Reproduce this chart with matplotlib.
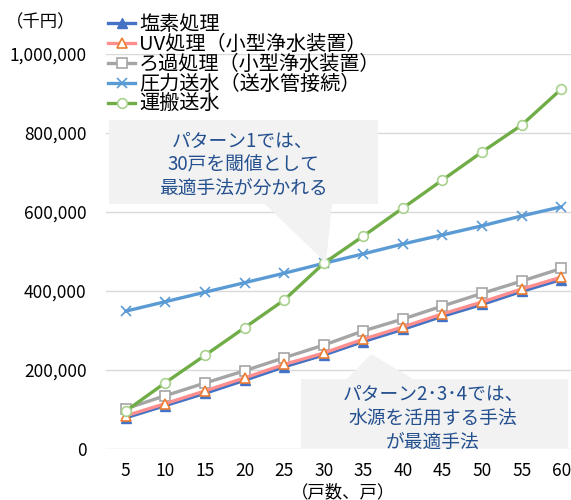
import matplotlib
matplotlib.use("Agg")
import matplotlib.pyplot as plt
from matplotlib.patches import Polygon

plt.rcParams['font.family'] = ['Noto Sans CJK JP', 'DejaVu Sans']

houses = [5, 10, 15, 20, 25, 30, 35, 40, 45, 50, 55, 60]
chlorine = [79000, 110000, 141000, 174000, 208000, 238000, 272000, 303000, 336000, 366000, 399000, 429000]
uv = [84000, 115000, 147000, 180000, 214000, 243000, 278000, 309000, 342000, 372000, 405000, 435000]
filtration = [102000, 135000, 167000, 198000, 231000, 263000, 299000, 329000, 362000, 394000, 425000, 457000]
pressure = [349000, 373000, 397000, 421000, 445000, 470000, 494000, 519000, 542000, 565000, 590000, 613000]
transport = [96000, 168000, 237000, 307000, 377000, 470000, 539000, 610000, 681000, 752000, 820000, 911000]

labels = ['塩素処理', 'UV処理（小型浄水装置）', 'ろ過処理（小型浄水装置）', '圧力送水（送水管接続）', '運搬送水']
yticks = [0, 200000, 400000, 600000, 800000, 1000000]
ytick_labels = ['0', '200,000', '400,000', '600,000', '800,000', '1,000,000']
note1 = ['パターン1では、', '30戸を閾値として', '最適手法が分かれる']
note2 = ['パターン2･3･4では、', '水源を活用する手法', 'が最適手法']

W, H = 571, 500
fig = plt.figure(figsize=(W / 100, H / 100), dpi=100)

def fx(x):
    return x / W

def fy(y):
    return 1 - y / H

ax = fig.add_axes([fx(106), fy(449), (581 - 106) / W, (449 - 54) / H])
ax.set_xlim(2.5, 62.5)
ax.set_ylim(0, 1000000)
for s in ax.spines.values():
    s.set_visible(False)
ax.set_yticks(yticks)
ax.set_yticklabels(ytick_labels)
ax.set_xticks(houses)
ax.set_xticklabels([str(h) for h in houses])
ax.tick_params(length=0, labelsize=12.5, colors='#000000')
ax.tick_params(axis='y', pad=14)
ax.tick_params(axis='x', pad=9)
ax.grid(axis='y', color='#d9d9d9', linewidth=1, zorder=0)
ax.set_axisbelow(True)

# callouts
poly1 = [(109, 120), (378, 120), (378, 204), (332, 204), (326, 263), (265, 204), (109, 204)]
poly2 = [(301, 379), (347, 379), (371, 354), (413, 379), (568, 379), (568, 448), (301, 448)]
for p in (poly1, poly2):
    fig.patches.append(Polygon([(fx(x), fy(y)) for x, y in p], closed=True,
                               facecolor='#f2f2f2', edgecolor='none',
                               transform=fig.transFigure, zorder=1))

lw = 2.4
ax.plot(houses, chlorine, color='#4472c4', lw=lw, marker='^', ms=7,
        mfc='#4472c4', mec='#4472c4', label=labels[0], zorder=3)
ax.plot(houses, uv, color='#ff8f8f', lw=lw, marker='^', ms=7,
        mfc='white', mec='#ed7d31', mew=1.2, label=labels[1], zorder=4)
ax.plot(houses, filtration, color='#a5a5a5', lw=lw, marker='s', ms=7,
        mfc='white', mec='#a5a5a5', mew=1.2, label=labels[2], zorder=3)
ax.plot(houses, pressure, color='#5b9bd5', lw=lw, marker='x', ms=7,
        mec='#5b9bd5', mew=1.2, label=labels[3], zorder=3)
ax.plot(houses, transport, color='#70ad47', lw=lw, marker='o', ms=7,
        mfc='white', mec='#a9d18e', mew=1.2, label=labels[4], zorder=5)

leg = fig.legend(loc='upper left', bbox_to_anchor=(fx(108), fy(14)),
                 bbox_transform=fig.transFigure, frameon=False,
                 fontsize=14.5, handlelength=1.35, handletextpad=0.2,
                 labelspacing=-0.05, borderpad=0, borderaxespad=0)

txt_color = '#24508f'
for line, y in zip(note1, [141, 165, 189]):
    fig.text(fx(243), fy(y), line, ha='center', va='center', fontsize=13.5, color=txt_color, zorder=6)
for line, y in zip(note2, [394, 419, 443]):
    fig.text(fx(433), fy(y), line, ha='center', va='center', fontsize=13.5, color=txt_color, zorder=6)

fig.text(fx(6), fy(22), '（千円）', ha='left', va='center', fontsize=12.5)
fig.text(fx(343), fy(492), '（戸数、戸）', ha='center', va='center', fontsize=12.5)

fig.savefig('out.png', dpi=100)
